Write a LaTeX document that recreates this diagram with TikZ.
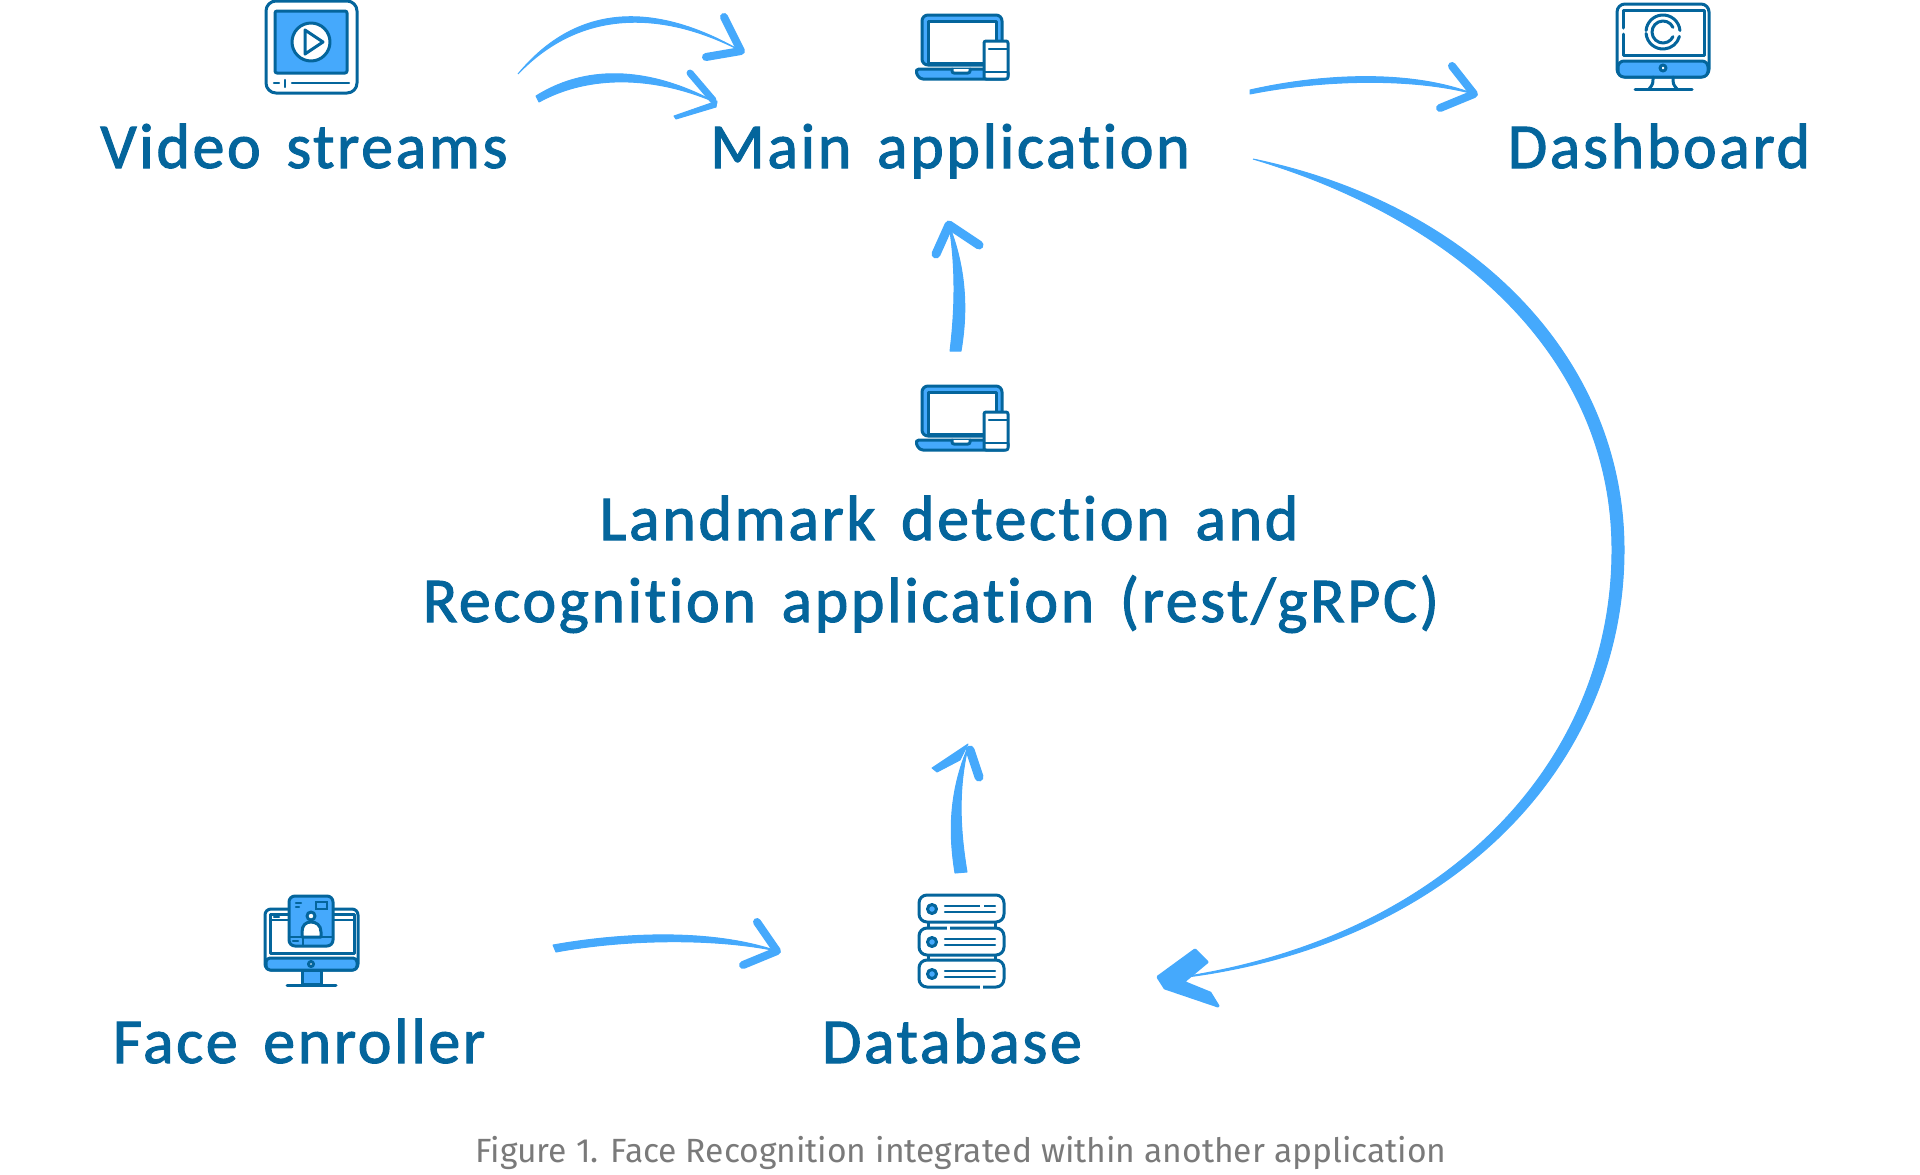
\documentclass[tikz,border=0pt]{standalone}
\usepackage{fontspec}
\setmainfont{Carlito}
\newfontfamily\labelfont{Carlito}[LetterSpace=4, WordSpace=1.5, Ligatures=NoCommon, FakeBold=1.6]
\newfontfamily\captionfont{Fira Sans}
\usetikzlibrary{positioning}

\definecolor{inkblue}{HTML}{04659C}
\definecolor{skyblue}{HTML}{45A9FC}
\definecolor{capgrey}{HTML}{7A7A7A}

\tikzset{
    boxlabel/.style={anchor=base, inner sep=0pt, text=inkblue, font=\labelfont\fontsize{32}{36}\selectfont},
    flowfill/.style={fill=skyblue, draw=skyblue, line width=0.5pt, line join=round},
    flowbarb/.style={draw=skyblue, line width=4pt, line cap=round, line join=round},
    icon/.style={draw=inkblue, line width=1.5pt, line cap=round, line join=round},
    thinline/.style={draw=inkblue, line width=1.2pt, line cap=round},
    gapline/.style={draw=white, line width=1.8pt},
    bluepart/.style={fill=skyblue},
    laptop/.pic={
        \path[icon, bluepart, rounded corners=3pt] (7, 0) rectangle (87, 50);
        \path[icon, fill=white] (13, 6) rectangle (81, 48);
        \path[icon, bluepart, rounded corners=2pt] (0, 54) -- (93, 54) -- (93, 64) -- (4, 64) -- cycle;
        \path[icon, fill=white, rounded corners=1pt] (37, 54) -- (37, 58) -- (55, 58) -- (55, 54);
        \path[icon, fill=white, rounded corners=1pt] (69, 26) rectangle (93, 64);
        \draw[thinline] (74, 34) -- (93, 34);
        \draw[thinline] (69, 57) -- (93, 57);
    },
}

\begin{document}
\begin{tikzpicture}[x=0.5pt, y=-0.5pt]
    \useasboundingbox (0, 0) rectangle (1920, 1174);

    % video player
    \path[icon, fill=white, rounded corners=5pt] (266, 1) rectangle (357, 93);
    \path[icon, bluepart, rounded corners=1pt] (275, 11) rectangle (347, 73);
    \path[icon, fill=white] (311, 42) circle (19);
    \path[icon, fill=white] (305, 30) -- (323, 42) -- (305, 54) -- cycle;
    \draw[thinline] (274, 83) -- (279, 83);
    \draw[thinline] (285, 80) -- (285, 87);
    \draw[thinline] (292, 83) -- (349, 83);

    \pic at (915, 15) {laptop};
    \pic at (915, 386) {laptop};

    % dashboard monitor
    \path[icon, fill=white, rounded corners=4pt] (1617, 4) rectangle (1709, 77);
    \draw[icon] (1623, 28) -- (1623, 10) -- (1704, 10) -- (1704, 55) -- (1623, 55) -- (1623, 34);
    \path[icon, bluepart, rounded corners=3pt] (1618, 61) -- (1708, 61) -- (1708, 77) -- (1618, 77) -- cycle;
    \path[icon, fill=white] (1663, 68) circle (3);
    \draw[icon] (1663, 32) ++(-5:17) arc[start angle=-5, end angle=-175, radius=17];
    \draw[icon] (1663, 32) ++(175:17) arc[start angle=175, end angle=15, radius=17];
    \draw[icon] (1663, 32) ++(-25:11) arc[start angle=-25, end angle=-335, radius=11];
    \draw[icon] (1653, 77) .. controls (1653, 84) .. (1649, 89);
    \draw[icon] (1673, 77) .. controls (1673, 84) .. (1677, 89);
    \draw[icon] (1635, 89) -- (1692, 89);

    % enroller monitor and card
    \path[icon, fill=white, rounded corners=3pt] (265, 909) rectangle (358, 970);
    \path[icon, fill=white] (270, 914) rectangle (354, 953);
    \path[icon, bluepart, rounded corners=2pt] (266, 958) rectangle (357, 970);
    \draw[thinline] (270, 920) -- (354, 920);
    \draw[thinline] (274, 917) -- (279, 917);
    \path[icon, fill=white] (311, 964) circle (2.5);
    \path[icon, bluepart] (302, 970) rectangle (321, 984);
    \draw[icon] (287, 985) -- (336, 985);
    \path[icon, bluepart, rounded corners=3pt] (289, 896) rectangle (333, 946);
    \path[icon, fill=white] (302, 937) -- (302, 932) .. controls (302, 925) and (306, 922) .. (311, 922) .. controls (316, 922) and (321, 925) .. (321, 932) -- (321, 937) -- cycle;
    \path[icon, fill=white] (311, 916) circle (4);
    \draw[thinline] (289, 937) -- (333, 937);
    \draw[thinline] (303, 937) -- (303, 946);
    \draw[thinline] (296, 903) -- (301, 903);
    \draw[thinline] (296, 907) -- (299, 907);
    \draw[thinline] (293, 941) -- (298, 941);
    \draw[thinline] (316, 902) rectangle (327, 909);

    % database rack
    \draw[icon] (928, 922) -- (928, 928);
    \draw[icon] (995, 922) -- (995, 928);
    \draw[icon] (928, 954) -- (928, 960);
    \draw[icon] (995, 954) -- (995, 960);
    \foreach \y in {895, 928, 960} {
        \path[icon, fill=white, rounded corners=4pt] (919, \y) rectangle (1004, \y + 27);
        \path[icon, fill=skyblue] (932, \y + 14) circle (4.5);
        \draw[thinline] (945, \y + 11) -- (995, \y + 11);
        \draw[thinline] (945, \y + 17) -- (995, \y + 17);
    }
    \draw[gapline] (980, 906) -- (984, 906);
    \draw[gapline] (947, 928) -- (950, 928);
    \draw[gapline] (980, 987) -- (983, 987);

    % labels
    \node (video) at (304, 168) [boxlabel] {Video streams};
    \node (main) at (950, 168) [boxlabel] {Main application};
    \node (dash) at (1659, 168) [boxlabel] {Dashboard};
    \node (land) at (949, 540) [boxlabel] {Landmark detection and};
    \node (recog) at (931, 622) [boxlabel] {Recognition application (rest/gRPC)};
    \node (face) at (299, 1063) [boxlabel] {Face enroller};
    \node (db) at (952, 1063) [boxlabel] {Database};
    \node (caption) at (961, 1162) [anchor=base, inner sep=0pt, text=capgrey, font=\captionfont\fontsize{16.8}{20}\selectfont] {Figure 1. Face Recognition integrated within another application};

    % arrow ends
    \coordinate (videoA) at (518, 74);
    \coordinate (mainA) at (741, 51);
    \coordinate (videoB) at (537, 99);
    \coordinate (mainB) at (717, 103);
    \coordinate (mainC) at (1250, 92);
    \coordinate (dashA) at (1474, 94);
    \coordinate (mainD) at (1253, 159);
    \coordinate (dbA) at (1160, 980);
    \coordinate (landA) at (956, 351);
    \coordinate (mainE) at (949, 225);
    \coordinate (dbB) at (961, 873);
    \coordinate (landB) at (968, 747);
    \coordinate (faceA) at (555, 948);
    \coordinate (dbC) at (777, 951);

    % arrows
    \fill[flowfill] (videoA) .. controls (585, -7) and (670, 10) .. (mainA) .. controls (670, 14) and (585, 4) .. (videoA);
    \draw[flowbarb] (724, 17) -- (mainA) -- (706, 57);
    \fill[flowfill] (videoB) ++(-1, -3) .. controls (590, 62) and (655, 69) .. (mainB) .. controls (655, 76) and (590, 74) .. (539, 102) -- cycle;
    \draw[flowbarb, line width=3.5pt] (690, 73) -- (713, 100);
    \fill[flowfill] (mainB) ++(0, -2) -- (674, 116) -- (676, 119) -- (716, 107) -- cycle;
    \fill[flowfill] (mainC) ++(0, -2) .. controls (1320, 74) and (1410, 69) .. (dashA) .. controls (1410, 77) and (1320, 80) .. (1250, 94) -- cycle;
    \draw[flowbarb] (1452, 66) -- (dashA) -- (1440, 108);
    \fill[flowfill] (mainD) .. controls (1475, 205) and (1624, 360) .. (1624, 550) .. controls (1624, 772) and (1442, 954) .. (dbA) .. controls (1438, 946) and (1612, 768) .. (1612, 550) .. controls (1612, 362) and (1465, 222) .. (mainD);
    \fill[flowfill, line width=1.5pt] (1158, 977) -- (1195, 950) -- (1207, 962) -- (1183, 982) -- (1210, 993) -- (1218, 1006) -- (1165, 988) -- cycle;
    \fill[flowfill] (950, 351) .. controls (955, 310) and (956, 268) .. (mainE) .. controls (966, 268) and (968, 310) .. (961, 351) -- cycle;
    \draw[flowbarb, line width=4.5pt] (936, 254) -- (mainE) -- (979, 245);
    \fill[flowfill] (955, 873) .. controls (948, 830) and (950, 790) .. (landB) .. controls (958, 790) and (960, 830) .. (967, 872) -- cycle;
    \fill[flowfill] (968, 744) -- (932, 768) -- (937, 772) -- (960, 760) -- cycle;
    \draw[flowbarb, line width=4.5pt] (970, 750) -- (979, 777);
    \fill[flowfill] (553, 945) .. controls (620, 933) and (710, 928) .. (dbC) .. controls (710, 937) and (620, 940) .. (556, 952) -- cycle;
    \draw[flowbarb] (757, 922) -- (dbC) -- (743, 965);
\end{tikzpicture}
\end{document}
